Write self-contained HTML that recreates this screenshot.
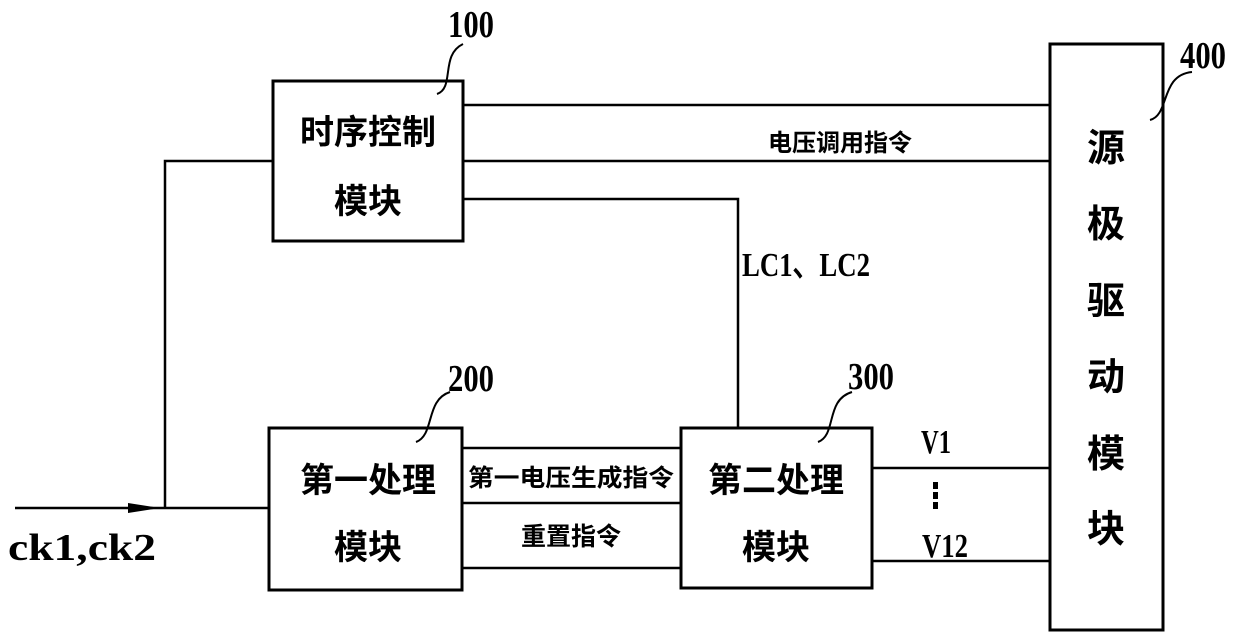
<!DOCTYPE html>
<html><head><meta charset="utf-8"><style>
html,body{margin:0;padding:0;background:#fff;}
svg{display:block;}
.cn{font-family:"Liberation Sans","Noto Sans CJK SC",sans-serif;font-weight:bold;fill:#000;}
.en{font-family:"Liberation Serif",serif;font-weight:bold;fill:#000;}
</style></head><body>
<svg width="1240" height="643" viewBox="0 0 1240 643" xmlns="http://www.w3.org/2000/svg">
<g fill="none" stroke="#000" stroke-width="3">
<rect x="273" y="81" width="190" height="160"/>
<rect x="269" y="428" width="193" height="162"/>
<rect x="681" y="428" width="191" height="160"/>
<rect x="1050" y="44" width="113" height="586"/>
</g>
<g stroke="#000" stroke-width="2.5" fill="none">
<line x1="463" y1="105" x2="1050" y2="105"/>
<line x1="463" y1="161" x2="1050" y2="161"/>
<polyline points="463,199 738,199 738,428"/>
<polyline points="273,161 165,161 165,507"/>
<line x1="15" y1="508" x2="269" y2="508"/>
<line x1="462" y1="448" x2="681" y2="448"/>
<line x1="462" y1="503" x2="681" y2="503"/>
<line x1="462" y1="568" x2="681" y2="568"/>
<line x1="872" y1="468" x2="1050" y2="468"/>
<line x1="872" y1="561" x2="1050" y2="561"/>
<path d="M437,94 C455,88 440,55 463,44" stroke-width="2"/>
<path d="M416,442 C435,435 425,400 450,392" stroke-width="2"/>
<path d="M818,442 C837,435 825,400 852,392" stroke-width="2"/>
<path d="M1150,120 C1170,115 1160,75 1192,72" stroke-width="2"/>
</g>
<polygon points="160,508 128,503 128,513" fill="#000"/>
<g fill="#000"><rect x="933" y="482" width="5" height="7"/><rect x="933" y="492" width="5" height="7"/><rect x="933" y="502" width="5" height="7"/></g>
<text class="cn" x="368" y="144" font-size="34" text-anchor="middle">时序控制</text>
<text class="cn" x="368" y="213" font-size="34" text-anchor="middle">模块</text>
<text class="cn" x="368" y="492" font-size="34" text-anchor="middle">第一处理</text>
<text class="cn" x="368" y="559" font-size="34" text-anchor="middle">模块</text>
<text class="cn" x="776" y="492" font-size="34" text-anchor="middle">第二处理</text>
<text class="cn" x="776" y="559" font-size="34" text-anchor="middle">模块</text>
<g class="cn" font-size="38" text-anchor="middle">
<text x="1106" y="161">源</text><text x="1106" y="237">极</text><text x="1106" y="314">驱</text><text x="1106" y="390">动</text><text x="1106" y="467">模</text><text x="1106" y="542">块</text>
</g>
<text class="cn" x="840" y="151" font-size="24" text-anchor="middle">电压调用指令</text>
<text class="cn" x="571" y="486" font-size="24" text-anchor="middle" textLength="206" lengthAdjust="spacingAndGlyphs">第一电压生成指令</text>
<text class="cn" x="571" y="545" font-size="25" text-anchor="middle">重置指令</text>
<text class="en" x="742" y="276" font-size="34" textLength="128" lengthAdjust="spacingAndGlyphs">LC1、LC2</text>
<text class="en" x="8" y="560" font-size="38" textLength="148" lengthAdjust="spacingAndGlyphs">ck1,ck2</text>
<text class="en" x="921" y="453" font-size="34" textLength="30" lengthAdjust="spacingAndGlyphs">V1</text>
<text class="en" x="922" y="557" font-size="34" textLength="46" lengthAdjust="spacingAndGlyphs">V12</text>
<text class="en" x="448" y="37" font-size="38" textLength="46" lengthAdjust="spacingAndGlyphs">100</text>
<text class="en" x="448" y="391" font-size="38" textLength="46" lengthAdjust="spacingAndGlyphs">200</text>
<text class="en" x="848" y="389" font-size="38" textLength="46" lengthAdjust="spacingAndGlyphs">300</text>
<text class="en" x="1180" y="68" font-size="38" textLength="46" lengthAdjust="spacingAndGlyphs">400</text>
</svg>
</body></html>
